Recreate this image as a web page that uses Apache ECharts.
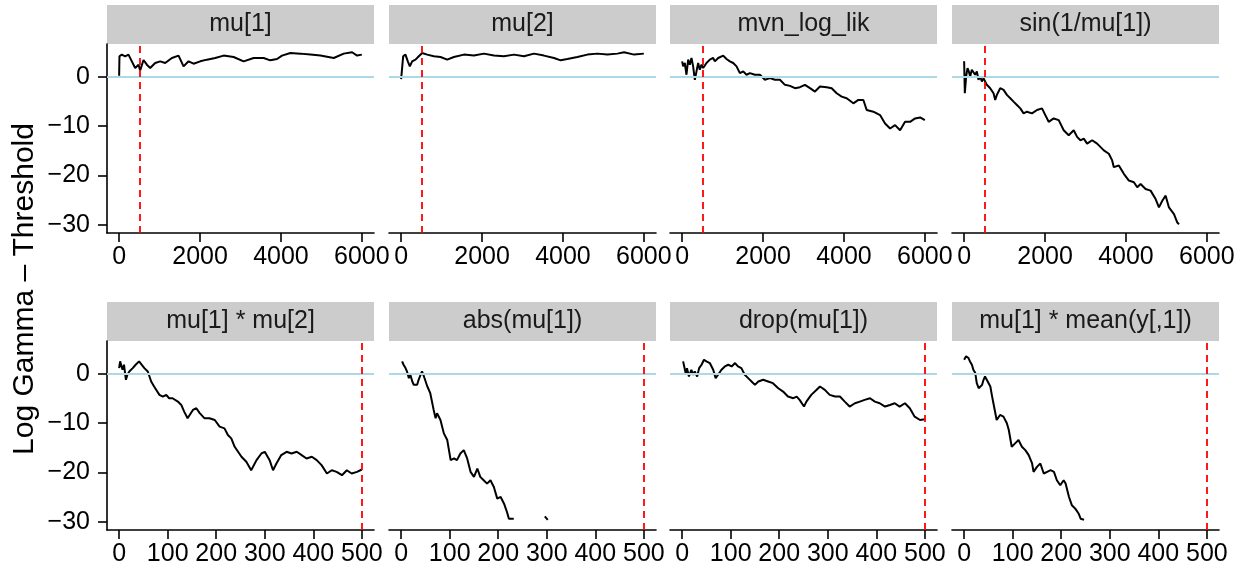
<!DOCTYPE html>
<html>
<head>
<meta charset="utf-8">
<script src="https://cdn.jsdelivr.net/npm/echarts@6/dist/echarts.min.js"></script>
<style>
  html, body { margin: 0; background: #fff; }
  #chart { width: 1246px; height: 571px; }
</style>
</head>
<body>
<div id="chart"></div>
<script>
// facet titles, in panel order (row by row)
const panelNames = ['mu[1]', 'mu[2]', 'mvn_log_lik', 'sin(1/mu[1])',
  'mu[1] * mu[2]', 'abs(mu[1])', 'drop(mu[1])', 'mu[1] * mean(y[,1])'];
const topTicks = [0, 2000, 4000, 6000];
const bottomTicks = [0, 100, 200, 300, 400, 500];
const yTicks = [-30, -20, -10, 0];
const threshold = 0;
const cutoffs = [500, 500, 500, 500, 500, 500, 500, 500];

// [iteration, log gamma - threshold]
const mu1 = [[0,0.2],[8,4.15],[66,4.49],[149,4.15],[231,4.49],[314,3.13],[396,1.77],[479,2.45],[520,1.29],
  [602,3.4],[685,2.45],[767,1.77],[891,2.79],[1015,3.13],[1139,2.79],[1304,3.81],[1469,4.29],[1592,2.11],
  [1716,3.13],[1840,2.65],[2005,3.13],[2170,3.47],[2376,3.81],[2582,4.29],[2830,4.01],[3077,3.13],
  [3325,3.81],[3572,3.81],[3737,3.33],[3902,3.6],[4026,4.29],[4232,4.83],[4480,4.69],[4727,4.49],
  [4975,4.29],[5305,3.81],[5552,4.69],[5758,4.97],[5882,4.29],[6000,4.49]];
const mu2 = [[0,-0.48],[50,4.15],[107,4.49],[165,3.13],[215,2.11],[272,3.13],[355,3.47],[437,4.15],
  [520,4.83],[644,4.49],[809,4.15],[974,4.01],[1139,3.47],[1304,4.01],[1551,4.49],[1799,4.29],
  [2046,4.69],[2294,4.29],[2541,4.15],[2789,4.49],[3036,4.15],[3284,4.69],[3531,4.29],[3779,3.81],
  [3944,3.33],[4109,3.6],[4356,4.01],[4604,4.49],[4851,4.69],[5099,4.49],[5346,4.69],[5511,4.97],
  [5759,4.49],[6000,4.69]];
const mvnLogLik = [[0,3.13],[25,2.11],[66,2.79],[107,0.41],[149,3.47],[190,2.45],[231,3.81],[272,2.11],
  [314,-0.61],[355,1.09],[396,2.79],[437,1.43],[479,2.45],[520,1.77],[602,2.79],[685,3.47],[767,3.81],
  [809,3.13],[891,3.81],[1015,4.29],[1097,3.6],[1180,3.13],[1262,2.79],[1345,2.11],[1427,0.75],
  [1510,1.09],[1592,0.41],[1675,0.75],[1798,0.41],[1922,0.41],[2046,-0.61],[2170,-0.27],[2294,-0.61],
  [2417,-0.61],[2541,-1.63],[2665,-1.84],[2789,-2.31],[2912,-2.11],[3036,-1.63],[3160,-2.31],
  [3284,-2.99],[3407,-1.97],[3572,-2.11],[3696,-2.31],[3820,-3.33],[3944,-4.01],[4067,-4.35],
  [4232,-5.37],[4356,-4.69],[4480,-4.69],[4562,-6.73],[4727,-7.07],[4892,-7.76],[5016,-9.46],
  [5140,-10.48],[5264,-9.8],[5387,-10.82],[5511,-9.12],[5635,-9.12],[5759,-8.44],[5882,-8.23],[6000,-8.78]];
const sinInvMu1 = [[0,3.13],[17,-3.33],[50,0.07],[83,1.77],[116,1.09],[149,0.07],[190,1.43],[231,1.09],
  [272,0.41],[314,1.09],[355,-0.61],[396,0.07],[438,-0.95],[479,-0.27],[520,-0.61],[561,-1.63],
  [644,-2.31],[727,-3.33],[768,-4.69],[809,-3.67],[892,-2.31],[975,-2.65],[1057,-3.67],[1140,-4.35],
  [1222,-5.03],[1305,-5.71],[1388,-6.39],[1470,-7.41],[1553,-7.07],[1677,-7.41],[1801,-6.73],
  [1925,-6.39],[2007,-7.76],[2090,-9.12],[2214,-8.44],[2338,-8.78],[2461,-10.82],[2585,-11.84],
  [2709,-10.82],[2792,-12.18],[2874,-12.86],[2957,-12.52],[3040,-13.54],[3164,-12.86],[3287,-13.54],
  [3453,-14.9],[3577,-15.58],[3659,-16.94],[3700,-18.3],[3824,-17.96],[3948,-19.66],[4072,-21.02],
  [4196,-21.36],[4279,-22.38],[4361,-21.7],[4485,-22.72],[4609,-23.06],[4733,-24.76],[4816,-26.46],
  [4898,-25.1],[4981,-24.08],[5063,-26.46],[5187,-27.82],[5270,-29.52],[5311,-29.86]];
const mu1TimesMu2 = [[0,1.15],[2,2.51],[5,2.85],[7,0.81],[10,1.83],[14,-1.22],[17,-0.2],[21,0.47],
  [28,1.15],[34,1.83],[41,2.51],[45,2.85],[52,1.15],[59,0.47],[66,-1.56],[72,-2.58],[83,-4.27],
  [90,-4.61],[97,-4.27],[103,-4.95],[110,-4.95],[121,-5.63],[128,-6.31],[134,-7.66],[141,-9.02],
  [152,-7.32],[159,-6.98],[166,-7.98],[176,-9.02],[186,-9.02],[197,-9.36],[207,-10.71],[217,-11.05],
  [224,-12.41],[231,-13.08],[238,-14.78],[245,-15.8],[252,-16.81],[262,-17.83],[272,-19.53],
  [283,-17.49],[293,-16.14],[300,-15.8],[310,-17.49],[317,-19.53],[324,-18.17],[334,-16.47],
  [345,-15.8],[355,-16.14],[366,-15.8],[376,-16.47],[386,-17.15],[397,-16.81],[407,-17.49],
  [417,-18.5],[428,-20.2],[438,-19.53],[448,-19.86],[459,-20.54],[469,-19.53],[479,-20.2],
  [490,-19.86],[500,-19.39]];
const absMu1 = [[2,2.51],[5,1.83],[9,1.15],[12,0.47],[16,-0.88],[19,-0.2],[23,-1.56],[26,-2.24],
  [30,-1.9],[33,-2.24],[36,-1.22],[40,-0.2],[43,0.47],[47,-0.54],[54,-2.58],[60,-3.93],[67,-7.32],
  [71,-9.02],[74,-8.0],[81,-9.36],[88,-12.07],[95,-13.42],[102,-17.49],[109,-17.15],[115,-17.49],
  [122,-16.14],[129,-15.46],[136,-17.15],[143,-19.86],[150,-20.88],[157,-19.19],[163,-20.88],
  [170,-21.56],[177,-22.24],[184,-21.56],[191,-22.92],[198,-25.29],[205,-24.95],[212,-26.31],
  [218,-28.0],[222,-29.36],[232,-29.36]];
const absMu1Tail = [[296,-28.9],[299,-29.2],[302,-29.6]];
const dropMu1 = [[2,2.51],[4,2.85],[8,-0.2],[10,1.15],[14,-0.54],[19,0.81],[23,-0.2],[26,0.47],
  [31,-0.54],[35,1.15],[40,1.83],[45,2.85],[50,2.51],[57,2.17],[64,0.81],[69,-0.88],[74,-0.2],
  [81,0.81],[88,1.49],[95,1.83],[102,1.49],[109,2.17],[115,1.49],[122,1.15],[129,-0.2],[136,-0.88],
  [143,-1.56],[150,-2.24],[157,-1.56],[167,-1.22],[177,-1.56],[187,-1.9],[198,-2.92],[208,-3.6],
  [218,-4.61],[229,-4.95],[236,-4.61],[242,-5.29],[251,-6.64],[256,-5.63],[266,-4.27],[277,-3.25],
  [284,-2.58],[294,-3.25],[304,-4.27],[315,-4.61],[325,-4.61],[335,-5.63],[345,-6.64],[356,-5.97],
  [366,-5.63],[376,-5.29],[387,-4.95],[397,-5.63],[407,-5.97],[418,-6.64],[428,-6.31],[438,-5.97],
  [448,-6.64],[459,-5.97],[469,-6.98],[479,-8.68],[490,-9.36],[500,-9.22]];
const mu1TimesMeanY = [[0,2.85],[4,3.53],[9,3.19],[12,2.51],[16,1.83],[19,0.81],[23,0.14],[26,-1.9],
  [30,-2.92],[33,-2.58],[37,-2.24],[40,-1.22],[43,-0.54],[47,-0.88],[54,-2.58],[57,-4.27],[61,-6.31],
  [67,-9.36],[74,-8.34],[81,-8.68],[88,-10.03],[92,-11.39],[98,-14.78],[105,-14.1],[112,-13.42],
  [119,-14.78],[126,-15.46],[133,-16.47],[140,-18.17],[143,-19.86],[150,-18.85],[157,-18.17],
  [164,-20.2],[171,-19.86],[178,-19.53],[185,-19.86],[191,-21.56],[198,-22.58],[205,-21.56],
  [209,-22.24],[216,-24.95],[222,-26.64],[229,-27.32],[236,-28.34],[240,-29.36],[247,-29.56]];

const panelData = [[mu1], [mu2], [mvnLogLik], [sinInvMu1],
  [mu1TimesMu2], [absMu1, absMu1Tail], [dropMu1], [mu1TimesMeanY]];

const FONT = 'Liberation Sans, Arial, sans-serif';
const colLeft = [107, 389, 670, 952];
const rowTop = [44, 341];
const panelW = 267, panelH = 189, stripH = 39;

const myChart = echarts.init(document.getElementById('chart'));

let grid = [], xAxis = [], yAxis = [], series = [], graphic = [];

panelNames.forEach((name, i) => {
  const row = Math.floor(i / 4), col = i % 4;
  const left = colLeft[col], top = rowTop[row];
  const ticks = row === 0 ? topTicks : bottomTicks;
  const xMin = row === 0 ? -300 : -25;
  const xMax = row === 0 ? 6300 : 525;

  grid.push({ left: left, top: top, width: panelW, height: panelH });

  xAxis.push({
    type: 'value',
    gridIndex: i,
    min: xMin,
    max: xMax,
    splitLine: { show: false },
    axisLine: { show: true, onZero: false, lineStyle: { color: '#000', width: 1.6 } },
    axisTick: { show: true, length: 9, lineStyle: { color: '#000', width: 1.6 }, customValues: ticks },
    axisLabel: {
      show: true, customValues: ticks, margin: 12, color: '#000', fontSize: 25, fontFamily: FONT,
      formatter: v => String(v)
    }
  });

  yAxis.push({
    type: 'value',
    gridIndex: i,
    min: -31.64,
    max: 6.64,
    splitLine: { show: false },
    axisLine: { show: col === 0, onZero: false, lineStyle: { color: '#000', width: 1.6 } },
    axisTick: { show: col === 0, length: 9, lineStyle: { color: '#000', width: 1.6 }, customValues: yTicks },
    axisLabel: {
      show: col === 0, customValues: yTicks, margin: 17, color: '#000', fontSize: 25, fontFamily: FONT,
      formatter: v => String(v).replace('-', '\u2212')
    }
  });

  panelData[i].forEach((d, k) => {
    series.push({
      type: 'line',
      xAxisIndex: i,
      yAxisIndex: i,
      data: d,
      showSymbol: false,
      lineStyle: { color: '#000', width: 2 },
      z: 3,
      markLine: k > 0 ? undefined : {
        silent: true,
        symbol: ['none', 'none'],
        label: { show: false },
        animation: false,
        data: [
          { yAxis: threshold, lineStyle: { color: '#ADD8E6', width: 1.8, type: 'solid' } },
          { xAxis: cutoffs[i], lineStyle: { color: '#FF0000', width: 1.8, type: [7, 5] } }
        ]
      }
    });
  });

  // facet strip
  graphic.push({
    type: 'rect',
    silent: true,
    shape: { x: left, y: top - stripH, width: panelW, height: stripH },
    style: { fill: '#cccccc' }
  });
  graphic.push({
    type: 'text',
    silent: true,
    x: left + panelW / 2,
    y: top - stripH / 2,
    style: { text: name, fill: '#1a1a1a', fontSize: 25, fontFamily: FONT, align: 'center', verticalAlign: 'middle' }
  });
});

graphic.push({
  type: 'text',
  silent: true,
  x: 25,
  y: 289,
  rotation: Math.PI / 2,
  style: { text: 'Log Gamma \u2013 Threshold', fill: '#000', fontSize: 30, fontFamily: FONT, align: 'center', verticalAlign: 'middle' }
});

myChart.setOption({
  backgroundColor: '#fff',
  animation: false,
  grid: grid,
  xAxis: xAxis,
  yAxis: yAxis,
  series: series,
  graphic: graphic
});
</script>
</body>
</html>
